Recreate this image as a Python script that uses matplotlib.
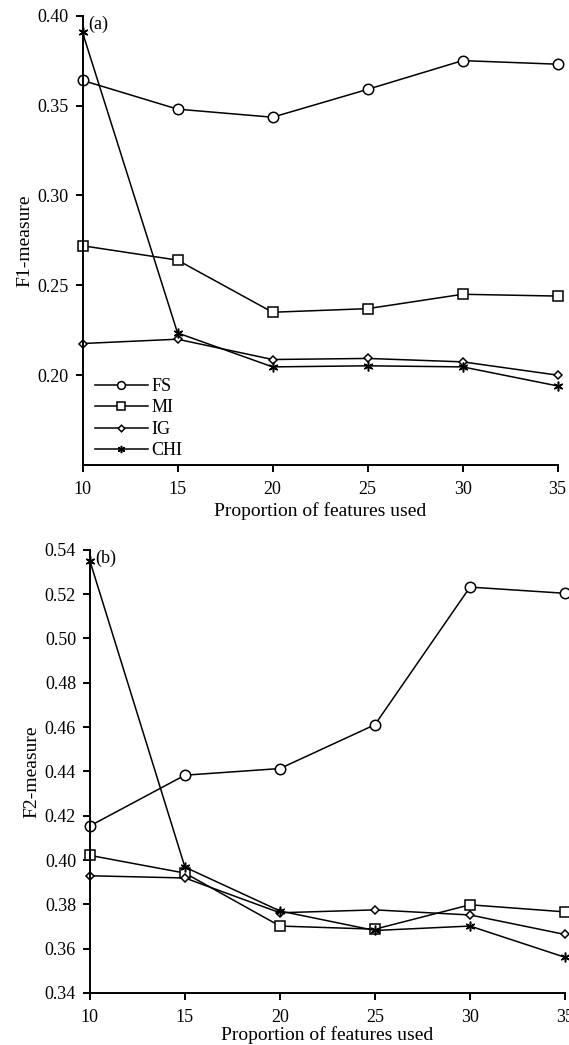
import numpy as np
import matplotlib
matplotlib.use("Agg")
import matplotlib.pyplot as plt

# proportion of features used (%)
proportion = [10, 15, 20, 25, 30, 35]
methods = ["FS", "MI", "IG", "CHI"]

# panel (a): F1-measure
f1_fs = [0.364, 0.348, 0.3435, 0.359, 0.375, 0.373]
f1_mi = [0.272, 0.264, 0.235, 0.237, 0.245, 0.244]
f1_ig = [0.2176, 0.2200, 0.2087, 0.2093, 0.2074, 0.2000]
f1_chi = [0.3907, 0.2235, 0.2046, 0.2052, 0.2046, 0.1940]

# panel (b): F2-measure
f2_fs = [0.4154, 0.4383, 0.4413, 0.4611, 0.5232, 0.5204]
f2_mi = [0.4021, 0.3941, 0.3702, 0.3688, 0.3798, 0.3766]
f2_ig = [0.3929, 0.3919, 0.3762, 0.3775, 0.3752, 0.3664]
f2_chi = [0.5350, 0.3968, 0.3770, 0.3682, 0.3702, 0.3561]

plt.rcParams["font.family"] = ["Liberation Serif", "DejaVu Serif"]
plt.rcParams["font.size"] = 13

styles = {
    "FS": dict(marker="o", markersize=7.5),
    "MI": dict(marker="s", markersize=7.5),
    "IG": dict(marker="D", markersize=4.5),
    "CHI": dict(marker=(6, 2, 0), markersize=7),
}


def draw_panel(ax, series, ylim, yticks, ylabel, tag, xlabelpad):
    for name, vals in zip(methods, series):
        ax.plot(proportion, vals, color="black", linewidth=1.1,
                markerfacecolor="white", markeredgecolor="black",
                markeredgewidth=1.1, label=name, clip_on=False, **styles[name])
    ax.set_xlim(10, 35)
    ax.set_ylim(*ylim)
    ax.set_xticks(proportion)
    ax.set_yticks(yticks)
    ax.set_yticklabels([f"{t:.2f}" for t in yticks])
    ax.spines["top"].set_visible(False)
    ax.spines["right"].set_visible(False)
    ax.spines["left"].set_linewidth(1.4)
    ax.spines["bottom"].set_linewidth(1.4)
    ax.spines["left"].set_bounds(ylim[0], yticks[-1])
    ax.tick_params(direction="out", length=5, width=1.4, labelsize=13)
    ax.tick_params(axis="x", pad=6.5)
    ax.tick_params(axis="y", pad=5)
    ax.set_xlabel("Proportion of features used", fontsize=14, labelpad=xlabelpad)
    ax.set_ylabel(ylabel, fontsize=14, labelpad=3)
    ax.text(0.012, 1.0, tag, transform=ax.transAxes, ha="left", va="top", fontsize=13)


fig = plt.figure(figsize=(5.69, 10.45), dpi=100)
ax1 = fig.add_axes([0.145, 0.555, 0.835, 0.430])
ax2 = fig.add_axes([0.158, 0.0498, 0.835, 0.424])

draw_panel(ax1, [f1_fs, f1_mi, f1_ig, f1_chi], (0.15, 0.40),
           [0.20, 0.25, 0.30, 0.35, 0.40], "F1-measure", "(a)", 3)
draw_panel(ax2, [f2_fs, f2_mi, f2_ig, f2_chi], (0.34, 0.54),
           np.round(np.arange(0.34, 0.5401, 0.02), 2), "F2-measure", "(b)", 0)

ax1.legend(loc="upper left", bbox_to_anchor=(0.026, 0.194), frameon=False,
           handlelength=2.95, handletextpad=0.2, labelspacing=0.25,
           markerscale=0.75, borderpad=0, borderaxespad=0, fontsize=13)

fig.savefig("out.png", dpi=100)
